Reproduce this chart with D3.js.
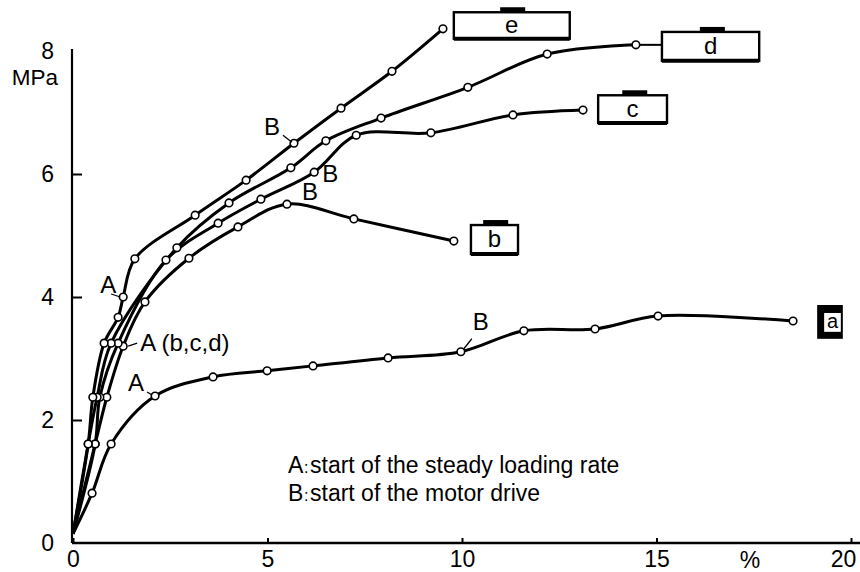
<!DOCTYPE html>
<html>
<head>
<meta charset="utf-8">
<script src="https://cdn.jsdelivr.net/npm/d3@7"></script>
<style>
  body { margin: 0; background: #fff; }
  text { font-family: "Liberation Sans", Arial, sans-serif; fill: #000; }
</style>
</head>
<body>
<div id="chart"></div>
<script>
// tick labels
const xTicks = [0, 5, 10, 15, 20];
const yTicks = [0, 2, 4, 6, 8];

// strain (%) and stress (MPa), one pair per curve
const strainA = [0, 0.49, 0.98, 2.11, 3.60, 4.99, 6.17, 8.10, 9.97, 11.59, 13.42, 15.04, 18.51];
const stressA = [0.15, 0.81, 1.61, 2.39, 2.70, 2.80, 2.88, 3.01, 3.11, 3.45, 3.48, 3.69, 3.61];

const strainB = [0, 0.57, 0.87, 1.29, 1.85, 2.98, 4.24, 5.50, 7.22, 9.79];
const stressB = [0.15, 1.61, 2.37, 3.20, 3.92, 4.63, 5.14, 5.51, 5.27, 4.91];

const strainC = [0, 0.57, 0.69, 1.16, 2.39, 3.73, 4.83, 6.20, 7.28, 9.20, 11.31, 13.11];
const stressC = [0.15, 1.61, 2.37, 3.25, 4.60, 5.20, 5.59, 6.03, 6.63, 6.67, 6.96, 7.04];

const strainD = [0, 0.39, 0.62, 0.98, 2.67, 4.01, 5.60, 6.50, 7.92, 10.15, 12.19, 14.47];
const stressD = [0.15, 1.61, 2.37, 3.25, 4.80, 5.53, 6.10, 6.54, 6.91, 7.41, 7.95, 8.10];

const strainE = [0, 0.39, 0.51, 0.80, 1.16, 1.29, 1.59, 3.14, 4.45, 5.68, 6.89, 8.20, 9.51];
const stressE = [0.15, 1.61, 2.37, 3.25, 3.67, 4.00, 4.62, 5.33, 5.90, 6.50, 7.07, 7.67, 8.36];

const curves = [
  { name: "a", x: strainA, y: stressA },
  { name: "b", x: strainB, y: stressB },
  { name: "c", x: strainC, y: stressC },
  { name: "d", x: strainD, y: stressD },
  { name: "e", x: strainE, y: stressE }
];

const w = 860;
const h = 572;

const xScale = d3.scaleLinear().domain([0, 20]).range([73, 851]);
const yScale = d3.scaleLinear().domain([0, 8]).range([543, 51]);

const svg = d3.select("#chart")
  .append("svg")
  .attr("width", w)
  .attr("height", h);

// axes
const xAxis = d3.axisBottom(xScale)
  .tickValues(xTicks)
  .tickSizeInner(-5)
  .tickSizeOuter(0)
  .tickPadding(8);

const gx = svg.append("g")
  .attr("transform", `translate(0, ${yScale(0)})`)
  .call(xAxis);
gx.select(".domain").remove();
gx.selectAll("line").attr("stroke", "#000").attr("stroke-width", 2);
gx.selectAll("text").style("font-size", "23px")
  .attr("dx", (d) => d === 20 ? -8 : 0);

svg.append("line")
  .attr("x1", xScale(0) - 1).attr("x2", w)
  .attr("y1", yScale(0)).attr("y2", yScale(0))
  .attr("stroke", "#000").attr("stroke-width", 2.6);

const yAxis = d3.axisLeft(yScale)
  .tickValues(yTicks)
  .tickSizeInner(-10)
  .tickSizeOuter(0)
  .tickPadding(18);

const gy = svg.append("g")
  .attr("transform", `translate(${xScale(0) - 1}, 0)`)
  .call(yAxis);
gy.select(".domain").attr("stroke-width", 2.2).attr("d", `M0,${yScale(0)}V${yScale(8) - 2}`);
gy.selectAll(".tick line")
  .attr("stroke", "#000").attr("stroke-width", 2)
  .attr("display", (d) => (d === 0 || d === 8) ? "none" : null);
gy.selectAll("text").style("font-size", "23px");

svg.append("text")
  .attr("x", 58).attr("y", 85)
  .attr("text-anchor", "end")
  .style("font-size", "22.5px")
  .text("MPa");

svg.append("text")
  .attr("x", xScale(17.4)).attr("y", yScale(0) + 25)
  .attr("text-anchor", "middle")
  .style("font-size", "23px")
  .text("%");

// curves
const line = d3.line()
  .x((d) => xScale(d[0]))
  .y((d) => yScale(d[1]))
  .curve(d3.curveCatmullRom.alpha(0.5));

curves.forEach((c) => {
  const pts = c.x.map((v, i) => [v, c.y[i]]);
  svg.append("path")
    .datum(pts)
    .attr("d", line)
    .attr("fill", "none")
    .attr("stroke", "#000")
    .attr("stroke-width", 3)
    .attr("stroke-linejoin", "round");
});

curves.forEach((c) => {
  const pts = c.x.map((v, i) => [v, c.y[i]]).slice(1);
  svg.append("g").selectAll("circle")
    .data(pts)
    .enter()
    .append("circle")
    .attr("cx", (d) => xScale(d[0]))
    .attr("cy", (d) => yScale(d[1]))
    .attr("r", 3.8)
    .attr("fill", "#fff")
    .attr("stroke", "#000")
    .attr("stroke-width", 1.6);
});

// d connects to its specimen box
const lastD = strainD.length - 1;
svg.append("line")
  .attr("x1", xScale(strainD[lastD]) + 4).attr("x2", xScale(15.14))
  .attr("y1", yScale(stressD[lastD])).attr("y2", yScale(stressD[lastD]))
  .attr("stroke", "#000").attr("stroke-width", 2);

// specimen boxes (extent in data units)
const boxes = [
  { name: "e", x0: 9.79, x1: 12.77, y0: 8.63, y1: 8.20, tab: 0.40 },
  { name: "d", x0: 15.14, x1: 17.64, y0: 8.31, y1: 7.84, tab: 0.39 },
  { name: "c", x0: 13.50, x1: 15.27, y0: 7.28, y1: 6.83, tab: 0.35 },
  { name: "b", x0: 10.23, x1: 11.44, y0: 5.17, y1: 4.70, tab: 0.26 }
];

boxes.forEach((b) => {
  const bx = xScale(b.x0), bw = xScale(b.x1) - bx;
  const by = yScale(b.y0), bh = yScale(b.y1) - by;
  const g = svg.append("g");
  g.append("rect")
    .attr("x", bx + b.tab * bw).attr("y", by - 5)
    .attr("width", 25).attr("height", 6)
    .attr("fill", "#000");
  g.append("rect")
    .attr("x", bx).attr("y", by)
    .attr("width", bw).attr("height", bh)
    .attr("fill", "#fff").attr("stroke", "#000").attr("stroke-width", 2.4);
  g.append("line")
    .attr("x1", bx).attr("x2", bx + bw)
    .attr("y1", by + bh).attr("y2", by + bh)
    .attr("stroke", "#000").attr("stroke-width", 4);
  g.append("text")
    .attr("x", bx + bw / 2).attr("y", by + bh / 2 + 8)
    .attr("text-anchor", "middle")
    .style("font-size", "24px")
    .text(b.name);
});

// box a is dark
{
  const bx = xScale(19.13), bw = xScale(19.79) - bx;
  const by = yScale(3.87), bh = yScale(3.32) - by;
  svg.append("rect").attr("x", bx).attr("y", by).attr("width", bw).attr("height", bh).attr("fill", "#000");
  svg.append("rect").attr("x", bx + 7).attr("y", by + 8).attr("width", bw - 9).attr("height", bh - 15).attr("fill", "#fff");
  svg.append("text")
    .attr("x", bx + 7 + (bw - 9) / 2).attr("y", by + bh / 2 + 6)
    .attr("text-anchor", "middle")
    .style("font-size", "20px")
    .text("a");
}

// A / B markers: point on a curve, text offset and leader
const notes = [
  { c: strainE, s: stressE, i: 5, text: "A", tx: -23, ty: -4, lead: [-12, -3, -3, 0] },
  { c: strainB, s: stressB, i: 3, text: "A (b,c,d)", tx: 17, ty: 5, lead: [5, 0, 14, -3] },
  { c: strainA, s: stressA, i: 3, text: "A", tx: -27, ty: -5, lead: [-8, -4, -3, -1] },
  { c: strainE, s: stressE, i: 9, text: "B", tx: -30, ty: -8, lead: [-11, -8, -2, -1] },
  { c: strainC, s: stressC, i: 7, text: "B", tx: 8, ty: 10, lead: null },
  { c: strainB, s: stressB, i: 7, text: "B", tx: 15, ty: -4, lead: null },
  { c: strainA, s: stressA, i: 8, text: "B", tx: 12, ty: -22, lead: [11, -13, 3, -3] }
];

notes.forEach((n) => {
  const px = xScale(n.c[n.i]), py = yScale(n.s[n.i]);
  svg.append("text")
    .attr("x", px + n.tx).attr("y", py + n.ty)
    .style("font-size", "24px")
    .text(n.text);
  if (n.lead) {
    svg.append("line")
      .attr("x1", px + n.lead[0]).attr("y1", py + n.lead[1])
      .attr("x2", px + n.lead[2]).attr("y2", py + n.lead[3])
      .attr("stroke", "#000").attr("stroke-width", 1.3);
  }
});

// legend
const legend = [
  ["A", "start of the steady loading rate"],
  ["B", "start of the motor drive"]
];
legend.forEach((l, i) => {
  const y = 473 + i * 28;
  svg.append("text").attr("x", 288).attr("y", y).style("font-size", "23px").text(l[0]);
  svg.append("text").attr("x", 304).attr("y", y).style("font-size", "16px").text(":");
  svg.append("text").attr("x", 310).attr("y", y).style("font-size", "23px").text(l[1]);
});
</script>
</body>
</html>
